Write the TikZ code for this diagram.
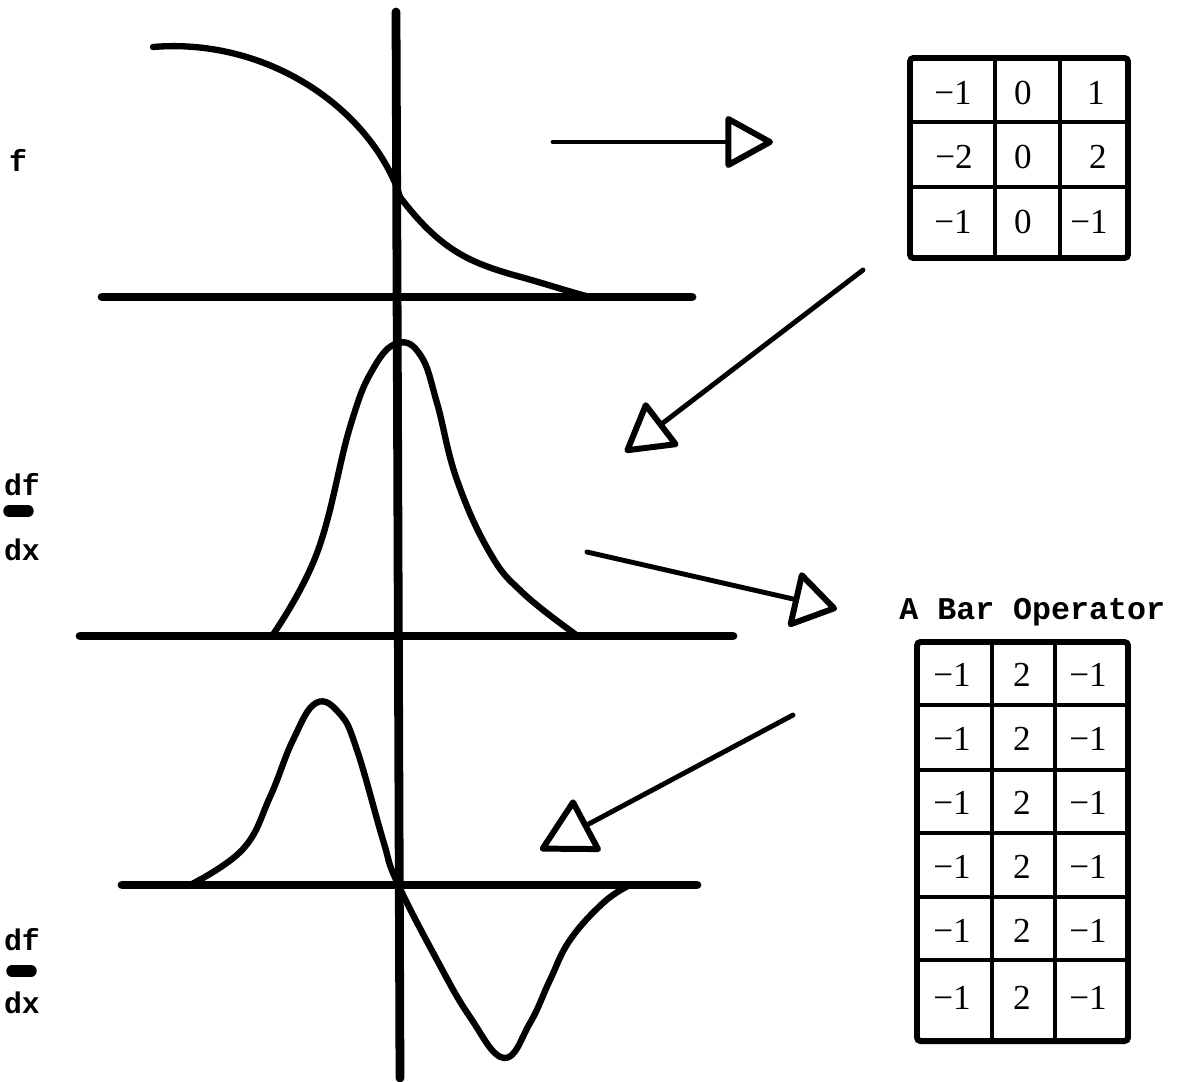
\documentclass[tikz,border=0pt]{standalone}
\usepackage{fontspec}
\setmonofont{Liberation Mono}
\newfontfamily\numfont{Liberation Serif}
\usetikzlibrary{arrows.meta}

\tikzset{
  axis/.style={line width=5pt,line cap=round},
  curve/.style={line width=3.6pt,line cap=round,line join=round},
  ptr/.style 2 args={line width=2.8pt,line cap=round,
    -{Triangle[open,length=#1,width=#2,line width=3.4pt,round]}},
  lbl/.style={inner sep=0pt,font=\ttfamily\bfseries\fontsize{17}{20}\selectfont},
  num/.style={inner sep=0pt,font=\numfont\fontsize{20}{22}\selectfont},
  grid/.style={line width=2.4pt},
  frame/.style={line width=3.4pt,rounded corners=2pt}
}

\begin{document}
\begin{tikzpicture}[x=0.2mm,y=-0.2mm]
\useasboundingbox (0,0) rectangle (1186,1082);

% axes
\coordinate (vtop) at (396,12);
\coordinate (vbot) at (400,1078);
\draw[axis] (vtop)--(vbot);
\coordinate (h1l) at (102,297);
\coordinate (h1r) at (692,297);
\coordinate (h2l) at (80,636);
\coordinate (h2r) at (733,636);
\coordinate (h3l) at (122,885);
\coordinate (h3r) at (697,885);
\draw[axis] (h1l)--(h1r);
\draw[axis] (h2l)--(h2r);
\draw[axis] (h3l)--(h3r);

% the signal and its derivatives
\draw[curve] (153,47) .. controls (260,38) and (360,100) .. (396,185)
  -- (400,197) .. controls (440,250) and (470,262) .. (510,274)
  .. controls (550,285) and (570,292) .. (590,297);
\draw[curve] plot[smooth,tension=0.7] coordinates {(272,636) (317,553)
  (350,427) (373,369) (398,343) (421,356) (437,403) (457,480)
  (490,553) (523,593) (575,634)};
\draw[curve] plot[smooth,tension=0.7] coordinates {(192,884) (243,849) (270,797)
  (293,740) (316,703) (340,714) (357,750) (383,840)
  (397,882) (437,960) (470,1017) (504,1058) (530,1023)
  (550,980) (570,940) (603,903) (628,886)};

% left labels
\node[lbl] (f) at (18,160) {f};
\node[lbl] (df1) at (22,485) {df};
\node[lbl] (dx1) at (22,550) {dx};
\node[lbl] (df2) at (22,940) {df};
\node[lbl] (dx2) at (22,1003) {dx};
\draw[line width=6.5pt,line cap=round] (9,511)--(28,511);
\draw[line width=6.5pt,line cap=round] (12,971)--(31,971);

% sobel mask
\draw[frame] (910,58) rectangle (1128,258);
\foreach \x in {995,1060} \draw[grid] (\x,58)--(\x,258);
\foreach \y in {122,187} \draw[grid] (910,\y)--(1128,\y);
\node[num] (s11) at (953,93) {−1};
\node[num] (s12) at (1023,93) {0};
\node[num,anchor=east] (s13) at (1105,93) {1};
\node[num] (s21) at (954,157) {−2};
\node[num] (s22) at (1023,157) {0};
\node[num,anchor=east] (s23) at (1107,157) {2};
\node[num] (s31) at (953,222) {−1};
\node[num] (s32) at (1023,222) {0};
\node[num] (s33) at (1089,222) {−1};

% bar operator
\node[lbl,anchor=west,font=\ttfamily\bfseries\fontsize{18}{20}\selectfont] (bartitle) at (899,612) {A Bar Operator};
\draw[frame] (917,642) rectangle (1128,1041);
\foreach \x in {992,1055} \draw[grid] (\x,642)--(\x,1041);
\foreach \y in {705,770,833,897,960} \draw[grid] (917,\y)--(1128,\y);
\foreach \y [count=\r] in {675,739,803,867,931,998} {
  \node[num] (b\r1) at (952,\y) {−1};
  \node[num] (b\r2) at (1022,\y) {2};
  \node[num] (b\r3) at (1088,\y) {−1};
}

% arrows
\coordinate (a1s) at (553,142);
\coordinate (a1e) at (773,142);
\coordinate (a2s) at (863,270);
\coordinate (a2e) at (625,452);
\coordinate (a3s) at (587,552);
\coordinate (a3e) at (837,609);
\coordinate (a4s) at (793,715);
\coordinate (a4e) at (540,850);
\draw[ptr={29pt}{31pt}] (a1s)--(a1e);
\draw[ptr={29pt}{33pt}] (a2s)--(a2e);
\draw[ptr={27pt}{34pt}] (a3s)--(a3e);
\draw[ptr={33pt}{35pt}] (a4s)--(a4e);
\end{tikzpicture}
\end{document}
